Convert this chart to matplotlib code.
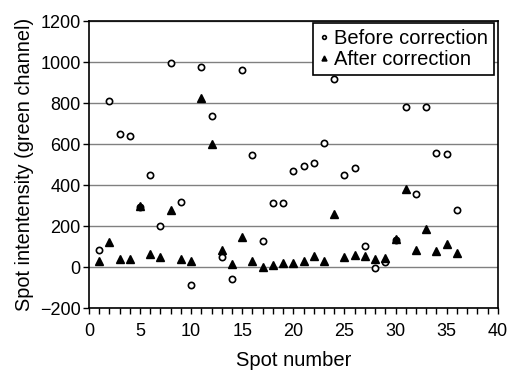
import matplotlib.pyplot as plt
from matplotlib.ticker import MultipleLocator

plt.rcParams['font.family'] = ['Liberation Sans', 'DejaVu Sans']

# Spot numbers
spots = list(range(1, 37))

# Intensity before correction (green channel)
before = [85, 812, 649, 637, 295, 447, 202, 997, 316, -87,
          974, 736, 51, -60, 959, 544, 126, 314, 314, 469,
          493, 505, 607, 915, 451, 485, 102, -3, 24, 130,
          783, 354, 780, 555, 549, 280]

# Intensity after correction
after = [30, 123, 40, 40, 298, 65, 48, 278, 40, 30,
         825, 602, 84, 16, 144, 29, -2, 11, 22, 19,
         27, 53, 31, 258, 50, 60, 52, 39, 45, 139,
         380, 81, 186, 78, 113, 66]

fig = plt.figure(figsize=(5.08, 3.72), dpi=100)
ax = fig.add_axes([0.175, 0.172, 0.805, 0.7715])

ax.plot(spots, before, 'o', mfc='white', mec='black', mew=1.2, ms=4.5,
        label='Before correction', zorder=3)
ax.plot(spots, after, '^', color='black', ms=6, label='After correction', zorder=4)

ax.set_xlim(0, 40)
ax.set_ylim(-200, 1200)
ax.xaxis.set_major_locator(MultipleLocator(5))
ax.xaxis.set_minor_locator(MultipleLocator(1))
ax.yaxis.set_major_locator(MultipleLocator(200))
ax.tick_params(which='both', direction='out', length=4, width=1, labelsize=13)
ax.tick_params(axis='x', pad=7)
ax.tick_params(axis='y', pad=2)
ax.grid(axis='y', color='#808080', lw=1)
ax.set_axisbelow(True)
for s in ax.spines.values():
    s.set_linewidth(1.2)

ax.set_xlabel('Spot number', fontsize=14.5, labelpad=8)
ax.set_ylabel('Spot intentensity (green channel)', fontsize=14.3, labelpad=4)

leg = ax.legend(loc='upper right', fontsize=14.5, markerscale=0.6, handlelength=0.5,
                handletextpad=0.25, borderpad=0.3, labelspacing=0.1,
                borderaxespad=0, fancybox=False, framealpha=1, edgecolor='black',
                bbox_to_anchor=(0.99, 0.993))
leg.get_frame().set_linewidth(1.2)

fig.savefig('out.png', dpi=100)
